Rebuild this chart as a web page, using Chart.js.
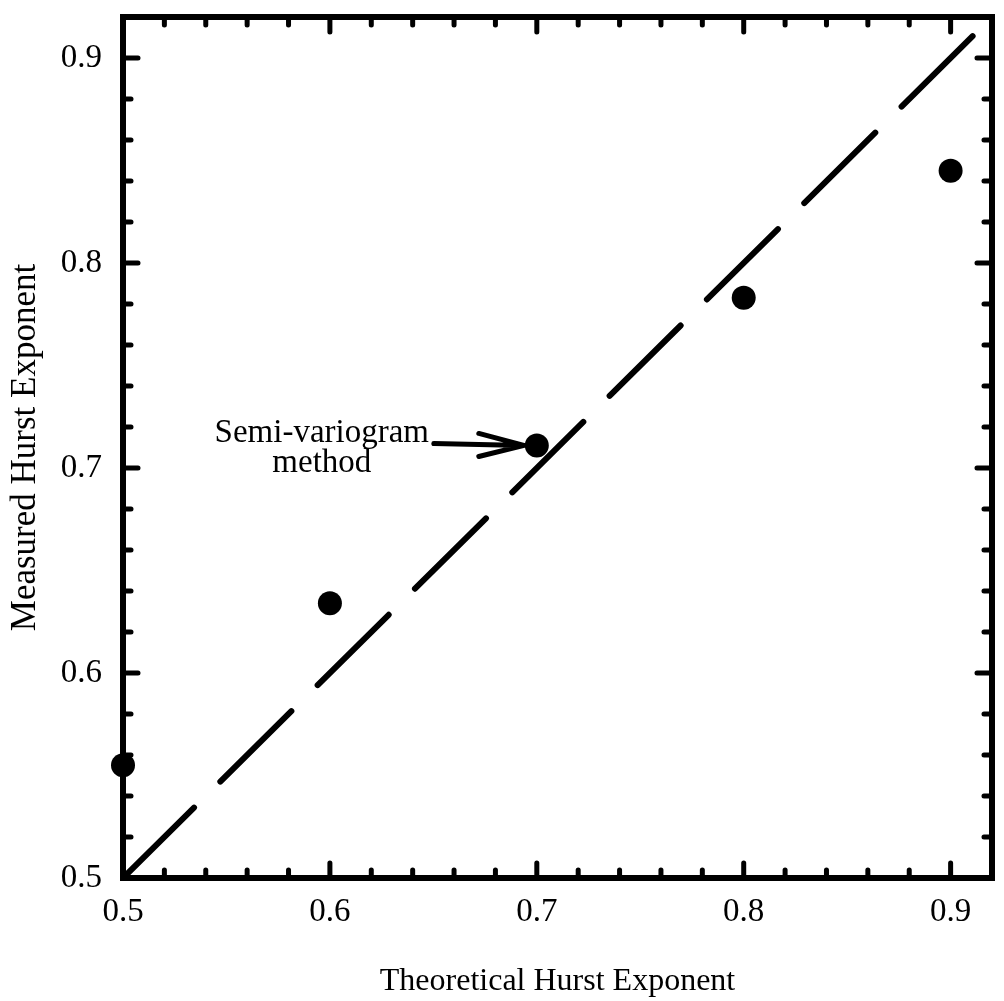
<!DOCTYPE html>
<html>
<head>
<meta charset="utf-8">
<script src="https://cdn.jsdelivr.net/npm/chart.js@4/dist/chart.umd.min.js"></script>
<style>
  html, body { margin: 0; padding: 0; background: #fff; }
  #wrap { width: 1004px; height: 1001px; }
</style>
</head>
<body>
<div id="wrap"><canvas id="hurstChart" width="1004" height="1001"></canvas></div>
<script>
// Data
const theoretical = [0.5, 0.6, 0.7, 0.8, 0.9];
const measured = [0.555, 0.634, 0.711, 0.783, 0.845];
const referenceLine = [0.5, 0.915];   // y = x, dashed
const tickLabels = ['0.5', '0.6', '0.7', '0.8', '0.9'];
const axisRange = [0.5, 0.92];
const minorStep = 0.02;
const annotationText = ['Semi-variogram', 'method'];
const annotatedIndex = 2;

const serif = '"Liberation Serif", "Times New Roman", serif';

function labelFor(value) {
    const hit = tickLabels.find(t => Math.abs(parseFloat(t) - value) < 1e-6);
    return hit || '';
}

// Frame with inward ticks on all four sides
const framePlugin = {
    id: 'frame',
    beforeDatasetsDraw(chart) {
        const { ctx, chartArea: a, scales } = chart;
        ctx.save();
        ctx.strokeStyle = '#000';
        ctx.lineCap = 'round';
        ctx.lineWidth = 5;

        const drawTicks = (scale, horizontal) => {
            scale.ticks.forEach(t => {
                if (t.value <= axisRange[0] + 1e-6 || t.value >= axisRange[1] - 1e-6) return;
                const p = scale.getPixelForValue(t.value);
                const len = labelFor(t.value) ? 15 : 8;
                ctx.beginPath();
                if (horizontal) {
                    ctx.moveTo(p, a.bottom); ctx.lineTo(p, a.bottom - len);
                    ctx.moveTo(p, a.top); ctx.lineTo(p, a.top + len);
                } else {
                    ctx.moveTo(a.left, p); ctx.lineTo(a.left + len, p);
                    ctx.moveTo(a.right, p); ctx.lineTo(a.right - len, p);
                }
                ctx.stroke();
            });
        };
        drawTicks(scales.x, true);
        drawTicks(scales.y, false);

        ctx.lineWidth = 6;
        ctx.lineCap = 'butt';
        ctx.lineJoin = 'miter';
        ctx.strokeRect(a.left, a.top, a.right - a.left, a.bottom - a.top);
        ctx.restore();
    },
    afterDatasetsDraw(chart) {
        // arrow label pointing at one point
        const { ctx, scales } = chart;
        const px = scales.x.getPixelForValue(theoretical[annotatedIndex]);
        const py = scales.y.getPixelForValue(measured[annotatedIndex]);
        const tipX = px - 13, tipY = py;
        const tailX = tipX - 90;
        ctx.save();
        ctx.strokeStyle = '#000';
        ctx.lineWidth = 5;
        ctx.lineCap = 'round';
        ctx.beginPath();
        ctx.moveTo(tailX, tipY - 2);
        ctx.lineTo(tipX, tipY);
        ctx.moveTo(tipX - 45, tipY - 12);
        ctx.lineTo(tipX, tipY);
        ctx.lineTo(tipX - 45, tipY + 11);
        ctx.stroke();

        ctx.fillStyle = '#000';
        ctx.font = '33px ' + serif;
        ctx.textAlign = 'center';
        ctx.textBaseline = 'middle';
        ctx.fillText(annotationText[0], px - 215, py - 12);
        ctx.fillText(annotationText[1], px - 215, py + 18);
        ctx.restore();
    }
};

const scaleCommon = {
    type: 'linear',
    min: axisRange[0],
    max: axisRange[1],
    grid: { display: false, drawTicks: false },
    border: { display: false },
    ticks: {
        stepSize: minorStep,
        autoSkip: false,
        maxRotation: 0,
        color: '#000',
        font: { family: serif, size: 33 },
        callback: value => labelFor(value)
    },
    title: {
        display: true,
        color: '#000',
        font: { family: serif, size: 32 }
    }
};

new Chart(document.getElementById('hurstChart'), {
    type: 'scatter',
    data: {
        datasets: [
            {
                label: 'y = x',
                data: referenceLine.map(v => ({ x: v, y: v })),
                showLine: true,
                borderColor: '#000',
                borderWidth: 6,
                borderDash: [100, 37],
                borderCapStyle: 'round',
                pointRadius: 0,
                fill: false
            },
            {
                label: 'Semi-variogram method',
                data: theoretical.map((x, i) => ({ x: x, y: measured[i] })),
                backgroundColor: '#000',
                borderWidth: 0,
                pointRadius: 12,
                clip: false
            }
        ]
    },
    options: {
        responsive: false,
        animation: false,
        layout: { padding: { top: 17, right: 11, left: 0, bottom: 0 } },
        plugins: {
            legend: { display: false },
            tooltip: { enabled: false }
        },
        scales: {
            x: {
                ...scaleCommon,
                position: 'bottom',
                ticks: { ...scaleCommon.ticks, padding: 15 },
                title: { ...scaleCommon.title, text: 'Theoretical Hurst Exponent', padding: { top: 0, bottom: 0 } },
                afterFit(scale) {
                    scale.height = 123;
                    scale.paddingLeft = 0;
                    scale.paddingRight = 0;
                }
            },
            y: {
                ...scaleCommon,
                position: 'left',
                ticks: { ...scaleCommon.ticks, padding: 21 },
                title: {
                    ...scaleCommon.title,
                    text: 'Measured Hurst Exponent',
                    font: { family: serif, size: 35 },
                    padding: { top: 5, bottom: 0 }
                },
                afterFit(scale) {
                    scale.width = 123;
                    scale.paddingTop = 0;
                    scale.paddingBottom = 0;
                }
            }
        }
    },
    plugins: [framePlugin]
});
</script>
</body>
</html>
